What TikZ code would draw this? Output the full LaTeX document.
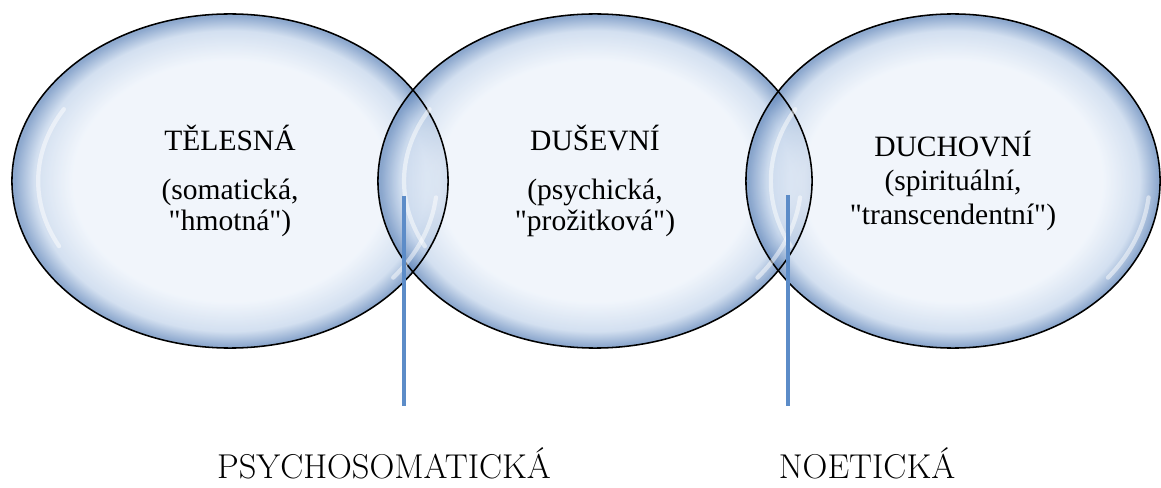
\documentclass[tikz,border=0pt]{standalone}
\usepackage{fontspec}
\newfontfamily\bubblefont{Liberation Serif}
\usetikzlibrary{shapes.geometric}

\definecolor{glassin}{RGB}{236,242,250}
\definecolor{glassmid}{RGB}{196,213,235}
\definecolor{glassedge}{RGB}{104,140,190}
\definecolor{stemblue}{RGB}{92,140,200}
\pgfdeclareradialshading{glass}{\pgfpoint{0bp}{0bp}}{color(0bp)=(glassin); color(18bp)=(glassin); color(22.5bp)=(glassmid); color(24.7bp)=(glassedge); color(25bp)=(glassedge); color(50bp)=(glassedge)}

\begin{document}
\begin{tikzpicture}[x = 0.025cm, y = 0.025cm,
  bubble/.style = {ellipse, inner sep = 0pt, shading = glass, fill opacity = 0.75, text opacity = 1,
    align = center, font = \bubblefont\fontsize{21}{22}\selectfont},
  rim/.style = {ellipse, inner sep = 0pt, draw = black, line width = 1.1pt},
  glint/.style = {white, opacity = 0.5, line width = 3pt, line cap = round},
  stemline/.style = {draw = stemblue, line width = 2.8pt},
  zone/.style = {anchor = base, inner sep = 0pt, font = \fontsize{24.5}{29}\selectfont}]
\useasboundingbox (0, 0) rectangle (1161, 487);

\node[bubble, minimum width = 10.9cm, minimum height = 8.35cm] (telesna) at (230, 306)
  {T\v{E}LESNÁ\\[0.6em](somatická,\\"hmotná")};
\node[bubble, minimum width = 10.85cm, minimum height = 8.35cm] (dusevni) at (595, 306)
  {DUŠEVNÍ\\[0.6em](psychická,\\"prožitková")};
\node[bubble, minimum width = 10.35cm, minimum height = 8.35cm] (duchovni) at (953, 306)
  {DUCHOVNÍ\\[2.5pt](spirituální,\\[2.5pt]"transcendentní")};

\node[rim, minimum width = 10.9cm, minimum height = 8.35cm] at (telesna.center) {};
\node[rim, minimum width = 10.85cm, minimum height = 8.35cm] at (dusevni.center) {};
\node[rim, minimum width = 10.35cm, minimum height = 8.35cm] at (duchovni.center) {};

\foreach \n/\r in {telesna/218, dusevni/217, duchovni/207} {
  \draw[glint, shift = {(\n.center)}] (150:{0.88*\r} and {0.86*167})
    arc[start angle = 150, end angle = 207, x radius = {0.88*\r}, y radius = {0.86*167}];
  \draw[glint, shift = {(\n.center)}] (-38:{0.95*\r} and {0.94*167})
    arc[start angle = -38, end angle = -6, x radius = {0.95*\r}, y radius = {0.94*167}];
}

\coordinate (psy top) at (404, 291);
\coordinate (psy foot) at (404, 81);
\coordinate (noe top) at (788, 292);
\coordinate (noe foot) at (788, 81);
\draw[stemline] (psy top) -- (psy foot);
\draw[stemline] (noe top) -- (noe foot);

\node[zone] (psychosomaticka) at (384, 9) {PSYCHOSOMATICKÁ};
\node[zone] (noeticka) at (867, 9) {NOETICKÁ};
\end{tikzpicture}
\end{document}
